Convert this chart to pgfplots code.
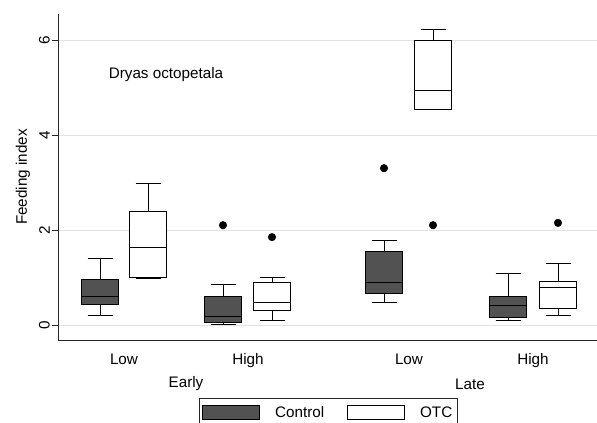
\documentclass[border=0pt]{standalone}
\usepackage{fontspec}
\setmainfont{Liberation Sans}
\usepackage{pgfplots}
\pgfplotsset{compat=1.18}
\usepgfplotslibrary{statistics}
\definecolor{ctrl}{RGB}{82,82,82}
\definecolor{gridc}{RGB}{226,226,226}
\newcommand{\figfont}{\fontsize{15.3}{18}\selectfont}
\begin{document}
\begin{tikzpicture}[font=\figfont]
\path[use as bounding box] (0,0) rectangle (597bp,423bp);
\begin{axis}[
    at={(58bp,83bp)}, anchor=south west,
    scale only axis, width=539bp, height=326bp,
    xmin=5.8, xmax=59.7, ymin=-0.316, ymax=6.547,
    axis x line*=bottom, axis y line*=left,
    axis line style={black!85, line width=1bp},
    clip=false,
    tick label style={font=\figfont},
    ytick={0,2,4,6},
    ymajorgrids, grid style={gridc, line width=0.8bp},
    tick align=outside, major tick length=6bp,
    ytick style={black!85, line width=0.8bp},
    yticklabel style={rotate=90, anchor=south, inner sep=2bp},
    /pgf/number format/assume math mode=true,
    xtick={12.4,24.8,40.9,53.3},
    xticklabels={Low,High,Low,High},
    xtick style={draw=none},
    xticklabel style={yshift=-4bp},
    ylabel={Feeding index},
    ylabel style={at={(axis description cs:-0.065,0.5)}, anchor=center, font=\figfont},
    boxplot/draw direction=y,
    boxplot/box extend=3.7,
    boxplot/whisker extend=2.5,
    legend style={at={(axis cs:19.9,-1.537)}, anchor=north west,
        draw=black!85, line width=0.8bp, legend columns=2, font=\figfont,
        inner xsep=3bp, inner ysep=6bp,
        /tikz/every odd column/.append style={column sep=13bp},
        /tikz/every even column/.append style={column sep=21bp},
        cells={anchor=west}},
    legend image code/.code={\draw[#1, line width=0.8bp] (0bp,-7bp) rectangle (57bp,7bp);},
  ]
  % Early, Low
  \addplot[draw=black, fill=ctrl, line width=0.9bp, forget plot,
    boxplot prepared={draw position=10.0, lower whisker=0.20, lower quartile=0.44,
      median=0.61, upper quartile=0.95, upper whisker=1.40}] coordinates {};
  \addplot[draw=black, fill=white, line width=0.9bp, forget plot,
    boxplot prepared={draw position=14.8, lower whisker=0.97, lower quartile=1.00,
      median=1.64, upper quartile=2.40, upper whisker=2.99}] coordinates {};
  % Early, High
  \addplot[draw=black, fill=ctrl, line width=0.9bp, forget plot,
    boxplot prepared={draw position=22.3, lower whisker=0.02, lower quartile=0.06,
      median=0.18, upper quartile=0.60, upper whisker=0.86}] coordinates {};
  \addplot[draw=black, fill=white, line width=0.9bp, forget plot,
    boxplot prepared={draw position=27.2, lower whisker=0.09, lower quartile=0.30,
      median=0.47, upper quartile=0.90, upper whisker=1.00}] coordinates {};
  % Late, Low
  \addplot[draw=black, fill=ctrl, line width=0.9bp, forget plot,
    boxplot prepared={draw position=38.4, lower whisker=0.48, lower quartile=0.66,
      median=0.89, upper quartile=1.55, upper whisker=1.77}] coordinates {};
  \addplot[draw=black, fill=white, line width=0.9bp, forget plot,
    boxplot prepared={draw position=43.3, lower whisker=4.53, lower quartile=4.53,
      median=4.93, upper quartile=5.99, upper whisker=6.22}] coordinates {};
  % Late, High
  \addplot[draw=black, fill=ctrl, line width=0.9bp, forget plot,
    boxplot prepared={draw position=50.8, lower whisker=0.10, lower quartile=0.15,
      median=0.42, upper quartile=0.60, upper whisker=1.09}] coordinates {};
  \addplot[draw=black, fill=white, line width=0.9bp, forget plot,
    boxplot prepared={draw position=55.8, lower whisker=0.20, lower quartile=0.34,
      median=0.79, upper quartile=0.91, upper whisker=1.30}] coordinates {};
  % outside values
  \addplot[only marks, mark=*, mark size=3.8bp, black, forget plot] coordinates {
    (22.3,2.10) (27.2,1.85) (38.4,3.30) (43.3,2.10) (55.8,2.15)
  };
  \addlegendimage{fill=ctrl, draw=black}
  \addlegendentry{Control}
  \addlegendimage{fill=white, draw=black}
  \addlegendentry{OTC}
  \node at (axis cs:16.6,5.28) {Dryas octopetala};
  \node at (axis cs:18.6,-0.316) [yshift=-44bp] {Early};
  \node at (axis cs:47.0,-0.316) [yshift=-44bp] {Late};
\end{axis}
\end{tikzpicture}
\end{document}
